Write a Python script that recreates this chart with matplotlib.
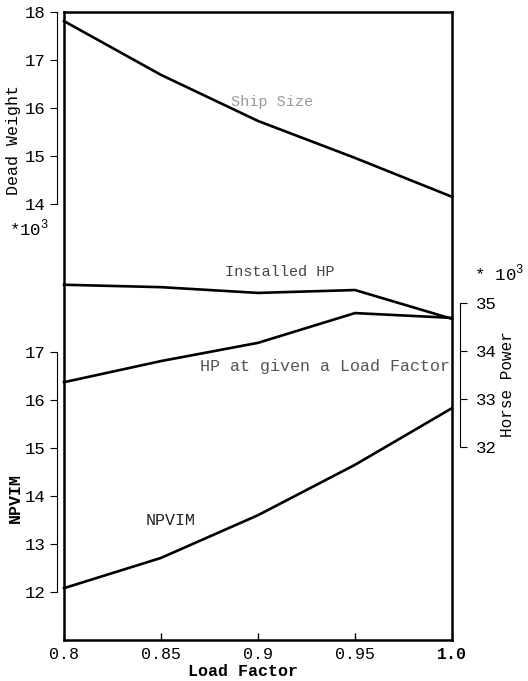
import matplotlib
matplotlib.use('Agg')
import matplotlib.pyplot as plt

plt.rcParams['font.family'] = ['Liberation Mono', 'DejaVu Sans Mono']
plt.rcParams['mathtext.fontset'] = 'custom'
plt.rcParams['mathtext.rm'] = 'Liberation Mono'

load_factor = [0.8, 0.85, 0.9, 0.95, 1.0]
ship_size = [17.81, 16.69, 15.73, 14.96, 14.15]
installed_hp = [35.38, 35.33, 35.21, 35.27, 34.67]
hp_at_load = [33.35, 33.79, 34.17, 34.79, 34.69]
npvim = [12.08, 12.71, 13.60, 14.65, 15.83]

x_ticks = [0.8, 0.85, 0.9, 0.95, 1.0]
x_labels = ['0.8', '0.85', '0.9', '0.95', '1.0']
dw_ticks = [14, 15, 16, 17, 18]
npvim_ticks = [12, 13, 14, 15, 16, 17]
hp_ticks = [32, 33, 34, 35]

W, H = 528, 681
fig = plt.figure(figsize=(W / 100, H / 100), dpi=100)
ax = fig.add_axes([64 / W, 41 / H, 388 / W, 628 / H])

# every scale uses the same unit height, so all share one span
span = 628 / 48

ax.set_xlim(0.8, 1.0)
ax.set_ylim(0, 1)
ax.set_yticks([])
ax.set_xticks(x_ticks, x_labels)
ax.tick_params(axis='x', direction='in', length=5, width=1, pad=5, labelsize=12)
for lab in ax.get_xticklabels()[-1:]:
    lab.set_fontweight('bold')
for sp in ax.spines.values():
    sp.set_linewidth(1.8)


def side_axis(side, lo, hi, ymin, ticks, offset):
    a = ax.twinx()
    a.set_ylim(ymin, ymin + span)
    for name, sp in a.spines.items():
        sp.set_visible(name == side)
    sp = a.spines[side]
    sp.set_position(('outward', offset))
    sp.set_bounds(lo, hi)
    sp.set_linewidth(0.8)
    a.yaxis.set_ticks_position(side)
    a.yaxis.set_label_position(side)
    a.set_yticks(ticks)
    a.tick_params(axis='y', direction='out', length=5, width=0.8,
                  labelsize=12.5, pad=3)
    return a


ax_dw = side_axis('left', 14, 18, 18 - span, dw_ticks, 5)
ax_np = side_axis('left', 12, 17, 11, npvim_ticks, 5)
ax_hp = side_axis('right', 32, 35, 32 - 193 / 48, hp_ticks, 6)
ax_hp.tick_params(axis='y', pad=6)

lw = 1.9
ax_dw.plot(load_factor, ship_size, color='black', lw=lw, clip_on=False)
ax_hp.plot(load_factor, installed_hp, color='black', lw=lw, clip_on=False)
ax_hp.plot(load_factor, hp_at_load, color='black', lw=lw, clip_on=False)
ax_np.plot(load_factor, npvim, color='black', lw=lw, clip_on=False)

# curve names
ax_dw.text(0.907, 16.12, 'Ship Size', fontsize=11, color='#999999',
           ha='center', va='center')
ax_hp.text(0.911, 35.65, 'Installed HP', fontsize=11, color='#444444',
           ha='center', va='center')
ax_hp.text(0.999, 33.67, 'HP at given a Load Factor', fontsize=12,
           color='#555555', ha='right', va='center')
ax_np.text(0.855, 13.5, 'NPVIM', fontsize=12, color='#222222',
           ha='center', va='center')

# axis titles and multipliers
fig.text(243 / W, 1 - 671 / H, 'Load Factor', fontsize=12,
         fontweight='bold', ha='center', va='center')
fig.text(14 / W, 1 - 140 / H, 'Dead Weight', rotation=90, fontsize=12,
         ha='center', va='center')
fig.text(29 / W, 1 - 228 / H, r'*10$^{3}$', fontsize=12.5,
         ha='center', va='center')
fig.text(15 / W, 1 - 498 / H, 'NPVIM', rotation=90, fontsize=12,
         fontweight='bold', ha='center', va='center')
fig.text(499 / W, 1 - 273 / H, r'* 10$^{3}$', fontsize=12.5,
         ha='center', va='center')
fig.text(508 / W, 1 - 384 / H, 'Horse Power', rotation=90, fontsize=11.5,
         ha='center', va='center')

fig.savefig('out.png', dpi=100)
